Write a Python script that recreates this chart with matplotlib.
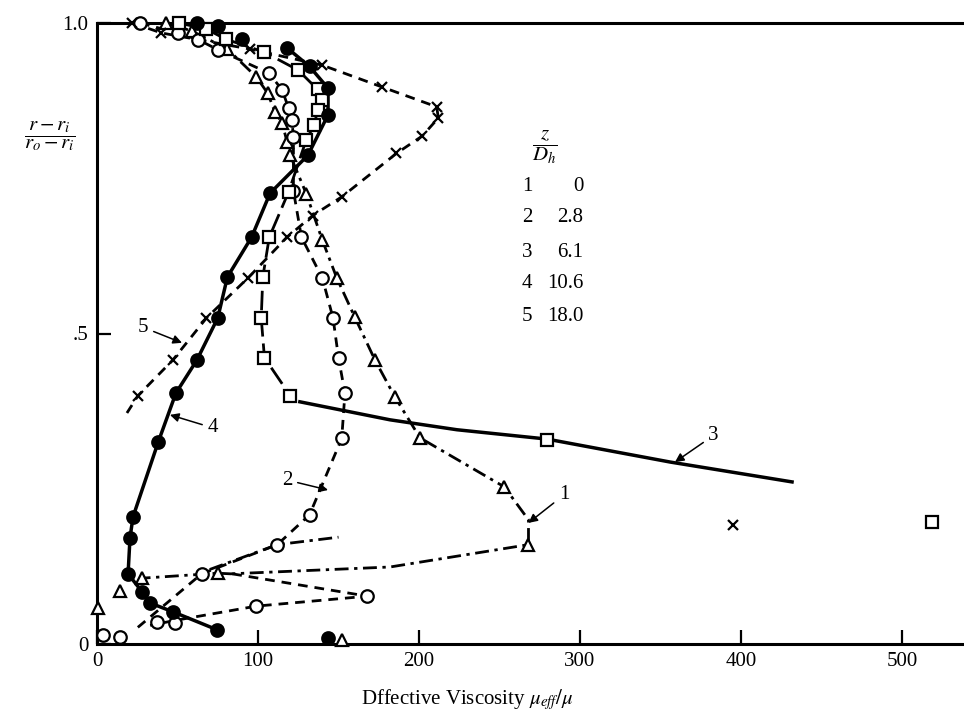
import matplotlib
matplotlib.use("Agg")
import matplotlib.pyplot as plt

plt.rcParams['font.family'] = ['Liberation Serif', 'DejaVu Serif']
plt.rcParams['mathtext.fontset'] = 'stix'

# curve 1, z/Dh = 0 (open triangles)
tri_x = [43, 59, 81, 99, 106, 110.5, 115, 118, 120, 130, 140, 149, 160, 172.7, 185, 200.6, 253, 268, 75, 28]
tri_y = [1.0, 0.987, 0.958, 0.913, 0.887, 0.857, 0.839, 0.809, 0.787, 0.725, 0.65, 0.589, 0.527, 0.457, 0.398, 0.332, 0.253, 0.16, 0.114, 0.106]
tri_extra_x = [14, 0.6, 152]
tri_extra_y = [0.085, 0.058, 0.006]
line1_x = [43, 59, 81, 99, 106, 110.5, 115, 118, 120, 130, 140, 149, 160, 172.7, 185, 200.6, 253, 268, 268, 182, 83, 75, 28]
line1_y = [1.0, 0.987, 0.958, 0.913, 0.887, 0.857, 0.839, 0.809, 0.787, 0.725, 0.65, 0.589, 0.527, 0.457, 0.398, 0.332, 0.253, 0.20, 0.16, 0.124, 0.113, 0.114, 0.106]
line1b_x = [70, 112, 150]
line1b_y = [0.12, 0.16, 0.172]

# curve 2, z/Dh = 2.8 (open circles)
circ_x = [26.7, 50, 63, 75, 107, 115, 119, 121, 122, 122, 127, 140, 146.6, 150, 154, 152, 132, 112, 65]
circ_y = [1.0, 0.984, 0.973, 0.957, 0.919, 0.892, 0.863, 0.844, 0.817, 0.73, 0.655, 0.589, 0.525, 0.461, 0.404, 0.331, 0.208, 0.16, 0.113]
circ_extra_x = [168, 99, 48.5, 37, 4, 14]
circ_extra_y = [0.077, 0.061, 0.034, 0.035, 0.014, 0.011]
line2_x = circ_x + [25]
line2_y = circ_y + [0.026]
line2b_x = [84, 168, 99, 48.5, 33]
line2b_y = [0.113, 0.077, 0.061, 0.038, 0.03]

# curve 3, z/Dh = 6.1 (open squares)
sq_x = [51, 68, 80, 104, 125, 137, 140, 137, 135, 130, 119, 107, 103, 102, 104, 120, 279.5, 518.6]
sq_y = [1.0, 0.99, 0.974, 0.953, 0.924, 0.893, 0.876, 0.86, 0.836, 0.812, 0.728, 0.655, 0.591, 0.525, 0.461, 0.40, 0.329, 0.196]
line3_x = sq_x[:16]
line3_y = sq_y[:16]
line3b_x = [126, 182, 223.6, 279.5, 356, 431.7]
line3b_y = [0.39, 0.361, 0.345, 0.33, 0.293, 0.261]

# curve 4, z/Dh = 10.6 (filled circles)
fill_x = [62, 75, 90, 118, 132, 143.5, 143.5, 131, 107.5, 96, 81, 75, 62, 49, 38, 22.4, 20.5, 19.3, 28, 33, 47, 74.5, 143.5]
fill_y = [1.0, 0.995, 0.975, 0.96, 0.93, 0.895, 0.852, 0.787, 0.726, 0.655, 0.591, 0.525, 0.457, 0.404, 0.325, 0.205, 0.171, 0.113, 0.084, 0.066, 0.052, 0.023, 0.01]
line4_x = fill_x[3:22]
line4_y = fill_y[3:22]

# curve 5, z/Dh = 18.0 (crosses)
cross_x = [22, 40, 95, 140, 177, 211, 212, 202, 186, 152, 134, 118, 94, 68, 47, 25.5, 395]
cross_y = [1.0, 0.984, 0.958, 0.932, 0.897, 0.865, 0.847, 0.818, 0.79, 0.72, 0.69, 0.655, 0.59, 0.525, 0.457, 0.40, 0.192]
line5_x = cross_x[:16] + [18.6]
line5_y = cross_y[:16] + [0.372]

legend_num = ['1', '2', '3', '4', '5']
legend_val = ['0', '2.8', '6.1', '10.6', '18.0']

fig = plt.figure(figsize=(9.64, 7.13), dpi=100)
ax = fig.add_axes([97/964, 69/713, 867/964, 621/713])

lw = 2.0
dashdot = (0, (5, 2, 1.2, 2))
dash = (0, (3.5, 2.5))
ax.plot(line1_x, line1_y, color='k', lw=lw, ls=dashdot)
ax.plot(line1b_x, line1b_y, color='k', lw=lw, ls=dashdot)
ax.plot(line2_x, line2_y, color='k', lw=lw, ls=dash)
ax.plot(line2b_x, line2b_y, color='k', lw=lw, ls=dash)
ax.plot(line3_x, line3_y, color='k', lw=lw, ls=(0, (7, 2.5)))
ax.plot(line3b_x, line3b_y, color='k', lw=2.5, ls='-')
ax.plot(line4_x, line4_y, color='k', lw=2.5, ls='-')
ax.plot(line5_x, line5_y, color='k', lw=lw, ls=dash)

mk = dict(ls='none', color='k', mew=1.6, clip_on=False, zorder=5)
ax.plot(tri_x + tri_extra_x, tri_y + tri_extra_y, marker='^', ms=9, mfc='white', **mk)
ax.plot(circ_x + circ_extra_x, circ_y + circ_extra_y, marker='o', ms=9, mfc='white', **mk)
ax.plot(sq_x, sq_y, marker='s', ms=8, mfc='white', **mk)
ax.plot(fill_x, fill_y, marker='o', ms=9, mfc='k', **mk)
ax.plot(cross_x, cross_y, marker='x', ms=7.5, **mk)

# curve labels with arrows
arrow = dict(arrowstyle='-|>', color='k', lw=1.1, mutation_scale=13, shrinkA=2, shrinkB=0)
ax.annotate('1', xy=(268, 0.195), xytext=(290, 0.24), fontsize=15, ha='center', va='center', arrowprops=arrow)
ax.annotate('2', xy=(143.5, 0.248), xytext=(118, 0.264), fontsize=15, ha='center', va='center', arrowprops=arrow)
ax.annotate('3', xy=(359, 0.293), xytext=(383, 0.336), fontsize=15, ha='center', va='center', arrowprops=arrow)
ax.annotate('4', xy=(45.3, 0.369), xytext=(72, 0.348), fontsize=15, ha='center', va='center', arrowprops=arrow)
ax.annotate('5', xy=(52.8, 0.485), xytext=(28.6, 0.51), fontsize=15, ha='center', va='center', arrowprops=arrow)

# z/Dh table
ax.text(278, 0.80, r'$\dfrac{z}{D_h}$', fontsize=15, ha='center', va='center')
rows_y = [0.736, 0.686, 0.631, 0.581, 0.527]
for n, v, yy in zip(legend_num, legend_val, rows_y):
    ax.text(267, yy, n, fontsize=15, ha='center', va='center')
    ax.text(302, yy, v, fontsize=15, ha='right', va='center')

ax.set_xlim(0, 538.5)
ax.set_ylim(0, 1.0)
ax.set_xticks([0, 100, 200, 300, 400, 500])
ax.set_xticklabels(['0', '100', '200', '300', '400', '500'])
ax.set_yticks([0, 0.5, 1.0])
ax.set_yticklabels(['0', '.5', '1.0'])
ax.tick_params(direction='in', length=10, width=1.6, labelsize=15, pad=6)
ax.spines['right'].set_visible(False)
for s in ['left', 'bottom', 'top']:
    ax.spines[s].set_linewidth(2.2)

fig.text(50/964, 1 - 136/713, r'$\dfrac{r-r_i}{r_o-r_i}$', fontsize=15, ha='center', va='center')
fig.text(467/964, 1 - 700/713, r'Dffective Viscosity $\mu_{eff}/\mu$', fontsize=15, ha='center', va='center')

plt.savefig('out.png', dpi=100)
